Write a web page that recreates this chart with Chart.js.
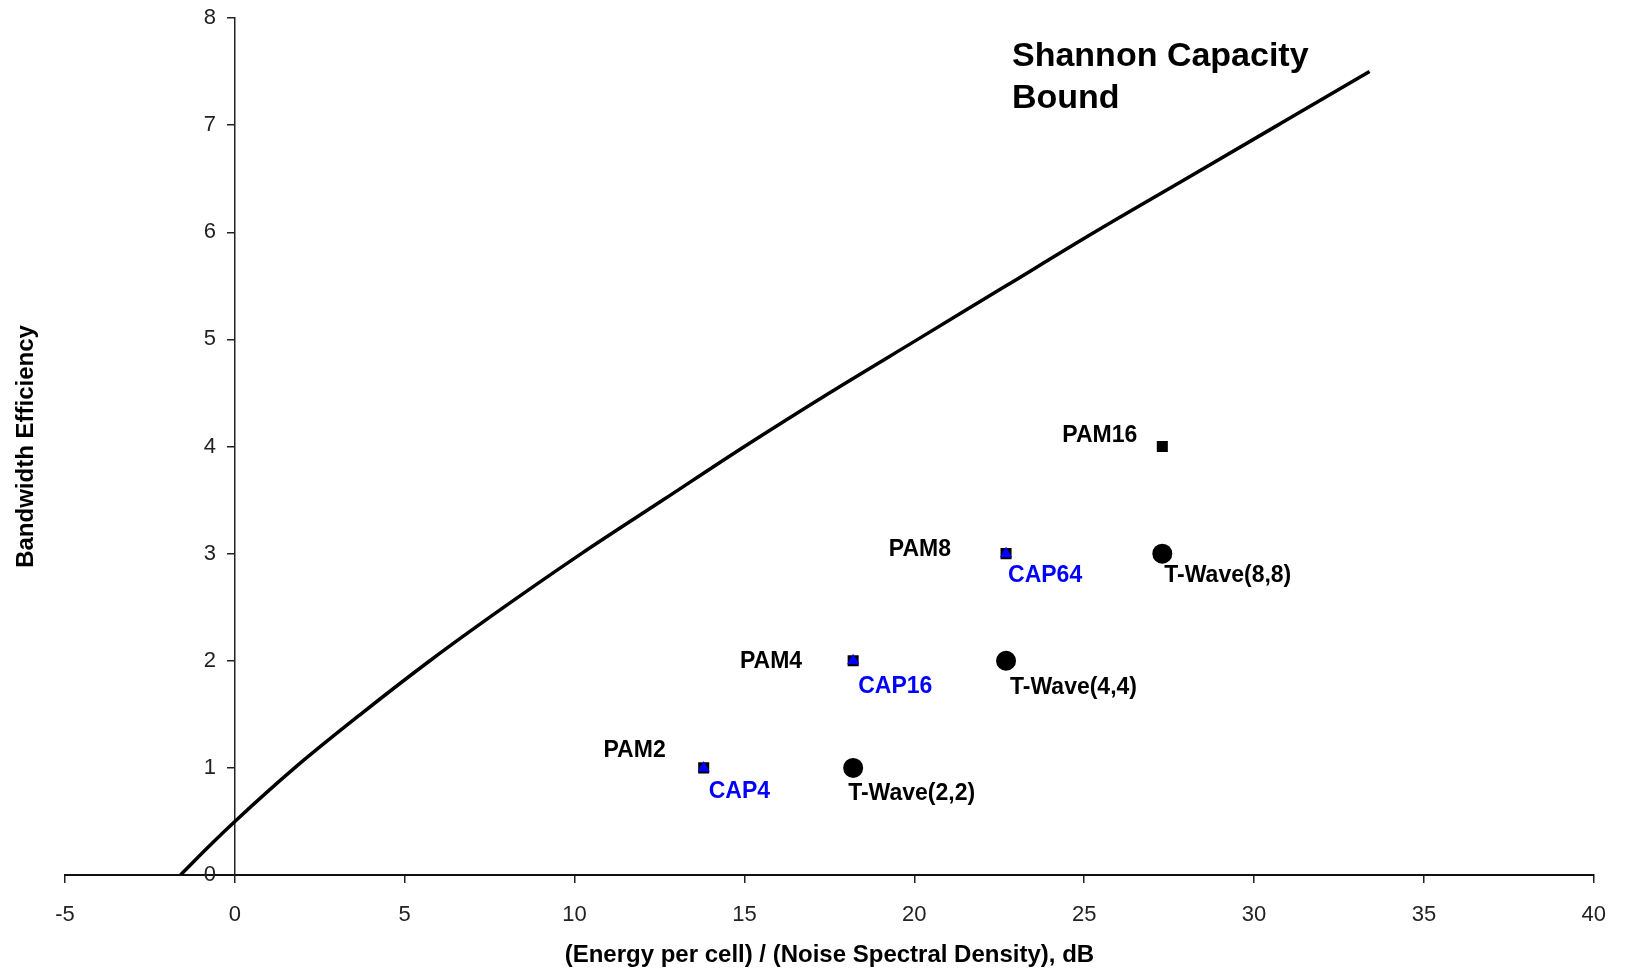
<!DOCTYPE html>
<html>
<head>
<meta charset="utf-8">
<script src="https://cdn.jsdelivr.net/npm/chart.js@4.4.1/dist/chart.umd.min.js"></script>
<style>
html,body{margin:0;padding:0;background:#fff;}
#wrap{width:1626px;height:974px;}
</style>
</head>
<body>
<div id="wrap"><canvas id="graph" width="1626" height="974"></canvas></div>
<script>
// Shannon capacity bound//
var shannonX=[-1.6,-0.82,0,1.76,3.7,5.74,7.92,10.2,12.6,15.0,17.5,20.1,22.7,25.3,28.0,30.7,33.4];
var shannonY=[0,0.25,0.5,1,1.5,2,2.5,3,3.5,4,4.5,5,5.5,6,6.5,7,7.5];

// modulation points//
var pamX=[13.8,18.2,22.7,27.3];
var pamY=[1,2,3,4];
var pamLabels=["PAM2","PAM4","PAM8","PAM16"];

var capX=[13.8,18.2,22.7];
var capY=[1,2,3];
var capLabels=["CAP4","CAP16","CAP64"];

var twaveX=[18.2,22.7,27.3];
var twaveY=[1,2,3];
var twaveLabels=["T-Wave(2,2)","T-Wave(4,4)","T-Wave(8,8)"];

var xTitle="(Energy per cell) / (Noise Spectral Density), dB";
var yTitle="Bandwidth Efficiency";
var boundTitle=["Shannon Capacity","Bound"];

function pts(xs,ys){
  var out=[];
  for(let i=0;i<xs.length;i++){ out.push({x:xs[i],y:ys[i]}); }
  return out;
}

var FONT='Arial, "Liberation Sans", sans-serif';

// label offsets from each marker (px)//
var pamOff=[[-38,-17],[-51,1],[-55,-4],[-25,-11]];
var capOff=[[5,24],[5,26],[2,22]];
var twaveOff=[[-5,26],[4,27],[2,22]];

const textPlugin={
  id:"texts",
  beforeDraw(chart){
    // y labels sit left of the crossing axis, push them off the line
    var items=chart.scales.y.getLabelItems(chart.chartArea);
    items.forEach(function(it){
      if(!it._moved){ it.options.translation[0]-=19; it._moved=true; }
    });
  },
  afterDatasetsDraw(chart){
    const ctx=chart.ctx, a=chart.chartArea;
    ctx.save();
    ctx.textBaseline="middle";
    ctx.fillStyle="#000";
    ctx.font="bold 24px "+FONT;
    ctx.textAlign="center";
    ctx.fillText(xTitle,(a.left+a.right)/2,955);
    ctx.save();
    ctx.translate(26,(a.top+a.bottom)/2);
    ctx.rotate(-Math.PI/2);
    ctx.fillText(yTitle,0,0);
    ctx.restore();

    ctx.font="bold 34px "+FONT;
    ctx.textAlign="left";
    ctx.fillText(boundTitle[0],1012,57);
    ctx.fillText(boundTitle[1],1012,99);

    ctx.font="bold 23px "+FONT;
    function labels(idx,texts,off,align,color){
      var meta=chart.getDatasetMeta(idx);
      ctx.textAlign=align;
      ctx.fillStyle=color;
      meta.data.forEach(function(p,j){
        ctx.fillText(texts[j],p.x+off[j][0],p.y+off[j][1]);
      });
    }
    labels(1,pamLabels,pamOff,"right","#000");
    labels(0,capLabels,capOff,"left","#0000ff");
    labels(2,twaveLabels,twaveOff,"left","#000");
    ctx.restore();
  }
};

const graph=new Chart("graph",{
  type:"scatter",
  data:{
    datasets:[
      {label:"CAP",data:pts(capX,capY),pointStyle:"triangle",radius:7,
       backgroundColor:"#0000ff",borderColor:"#0000ff",borderWidth:0},
      {label:"PAM",data:pts(pamX,pamY),pointStyle:"rect",radius:7.8,
       backgroundColor:"#000",borderColor:"#000",borderWidth:0},
      {label:"T-Wave",data:pts(twaveX,twaveY),pointStyle:"circle",radius:10,
       backgroundColor:"#000",borderColor:"#000",borderWidth:0},
      {label:"Shannon",data:pts(shannonX,shannonY),showLine:true,pointRadius:0,
       borderColor:"#000",borderWidth:3.5,cubicInterpolationMode:"monotone",fill:false}
    ]
  },
  options:{
    responsive:false,
    animation:false,
    devicePixelRatio:1,
    layout:{padding:{left:65,right:31,top:18,bottom:99}},
    plugins:{legend:{display:false},tooltip:{enabled:false}},
    scales:{
      x:{
        type:"linear",min:-5,max:40,position:{y:0},
        ticks:{stepSize:5,color:"#222",padding:20,font:{family:FONT,size:22}},
        grid:{drawOnChartArea:false,drawTicks:true,tickLength:7,color:"#222",lineWidth:1.5},
        border:{display:true,color:"#111",width:2}
      },
      y:{
        type:"linear",min:0,max:8,position:{x:0},
        ticks:{stepSize:1,color:"#222",font:{family:FONT,size:22}},
        grid:{drawOnChartArea:false,drawTicks:true,tickLength:7,color:"#222",lineWidth:1.5},
        border:{display:true,color:"#222",width:1.5}
      }
    }
  },
  plugins:[textPlugin]
});
</script>
</body>
</html>
